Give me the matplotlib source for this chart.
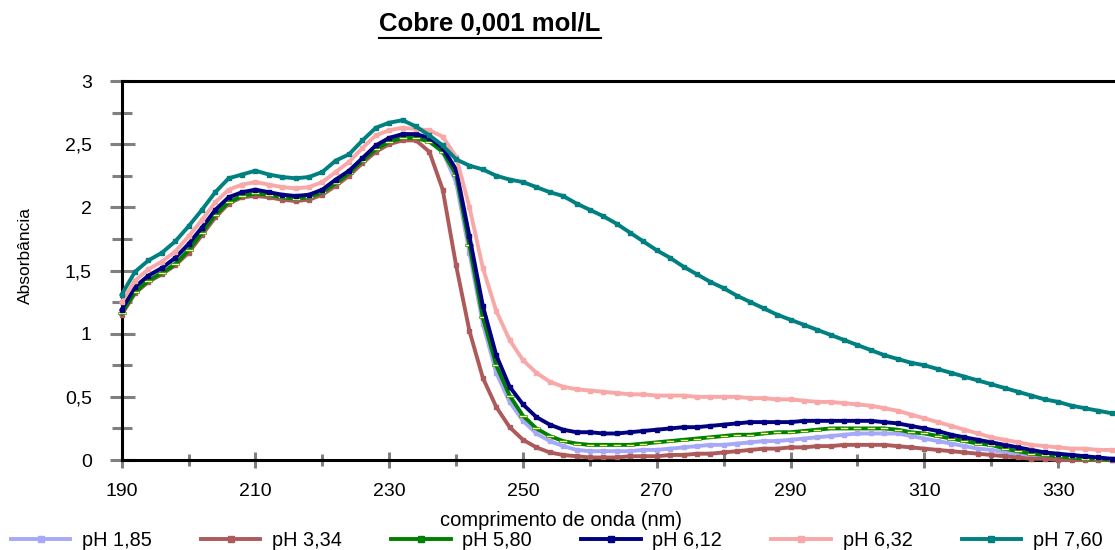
import matplotlib
matplotlib.use('Agg')
import matplotlib.pyplot as plt
from matplotlib.lines import Line2D
from matplotlib.ticker import FuncFormatter

plt.rcParams['font.family'] = ['Liberation Sans', 'DejaVu Sans']

# comprimento de onda (nm), leitura a cada 2 nm
wl = list(range(190, 342, 2))

ph_labels = ['pH 1,85', 'pH 3,34', 'pH 5,80', 'pH 6,12', 'pH 6,32', 'pH 7,60']

abs_185 = [1.17, 1.34, 1.43, 1.49, 1.56, 1.67, 1.81, 1.95, 2.05, 2.10,
           2.12, 2.11, 2.09, 2.08, 2.09, 2.13, 2.20, 2.28, 2.38, 2.48,
           2.54, 2.57, 2.57, 2.53, 2.44,
           2.20, 1.64, 1.08, 0.69, 0.46, 0.31, 0.21, 0.15, 0.11, 0.08,
           0.07, 0.07, 0.07, 0.07, 0.08, 0.08, 0.09, 0.10, 0.11, 0.12,
           0.12, 0.13, 0.14, 0.15, 0.15, 0.16, 0.17, 0.18, 0.19, 0.20,
           0.21, 0.21, 0.21, 0.21, 0.19, 0.17, 0.15, 0.13, 0.11, 0.09,
           0.08, 0.06, 0.05, 0.04, 0.03, 0.02, 0.02, 0.01, 0.01, 0.00,
           0.00]

abs_334 = [1.15, 1.32, 1.41, 1.47, 1.54, 1.64, 1.78, 1.92, 2.03, 2.08,
           2.09, 2.08, 2.06, 2.05, 2.06, 2.10, 2.17, 2.25, 2.35, 2.44,
           2.50, 2.53, 2.53, 2.44, 2.14,
           1.54, 1.02, 0.65, 0.42, 0.26, 0.16, 0.10, 0.06, 0.04, 0.03,
           0.02, 0.02, 0.02, 0.03, 0.03, 0.03, 0.04, 0.04, 0.05, 0.05,
           0.06, 0.07, 0.08, 0.09, 0.09, 0.10, 0.10, 0.11, 0.11, 0.12,
           0.12, 0.12, 0.12, 0.11, 0.10, 0.09, 0.08, 0.07, 0.06, 0.05,
           0.04, 0.03, 0.02, 0.01, 0.01, 0.00, 0.00, 0.00, 0.00, 0.00,
           0.00]

abs_580 = [1.16, 1.33, 1.42, 1.48, 1.55, 1.66, 1.80, 1.94, 2.04, 2.09,
           2.11, 2.10, 2.08, 2.07, 2.08, 2.12, 2.19, 2.27, 2.37, 2.46,
           2.52, 2.55, 2.55, 2.52, 2.44,
           2.26, 1.70, 1.13, 0.75, 0.51, 0.35, 0.25, 0.19, 0.15, 0.13,
           0.12, 0.12, 0.12, 0.12, 0.13, 0.14, 0.15, 0.16, 0.17, 0.18,
           0.19, 0.20, 0.20, 0.21, 0.22, 0.22, 0.23, 0.24, 0.25, 0.25,
           0.25, 0.25, 0.25, 0.24, 0.22, 0.21, 0.19, 0.17, 0.15, 0.13,
           0.12, 0.09, 0.07, 0.05, 0.04, 0.03, 0.02, 0.01, 0.01, 0.00,
           0.00]

abs_612 = [1.19, 1.37, 1.46, 1.52, 1.60, 1.71, 1.84, 1.98, 2.08, 2.12,
           2.14, 2.12, 2.10, 2.09, 2.10, 2.14, 2.22, 2.29, 2.39, 2.49,
           2.55, 2.58, 2.58, 2.55, 2.47,
           2.30, 1.77, 1.22, 0.83, 0.58, 0.44, 0.34, 0.28, 0.24, 0.22,
           0.22, 0.21, 0.21, 0.22, 0.23, 0.24, 0.25, 0.26, 0.26, 0.27,
           0.28, 0.29, 0.30, 0.30, 0.30, 0.30, 0.31, 0.31, 0.31, 0.31,
           0.31, 0.31, 0.30, 0.29, 0.27, 0.25, 0.23, 0.20, 0.18, 0.16,
           0.14, 0.12, 0.10, 0.08, 0.06, 0.05, 0.04, 0.03, 0.02, 0.01,
           0.01]

abs_632 = [1.25, 1.42, 1.51, 1.57, 1.65, 1.77, 1.90, 2.04, 2.14, 2.18,
           2.20, 2.18, 2.16, 2.15, 2.16, 2.20, 2.28, 2.36, 2.47, 2.57,
           2.61, 2.63, 2.62, 2.61, 2.56,
           2.40, 2.00, 1.52, 1.18, 0.95, 0.79, 0.69, 0.62, 0.58, 0.56,
           0.55, 0.54, 0.53, 0.52, 0.52, 0.51, 0.51, 0.51, 0.50, 0.50,
           0.50, 0.50, 0.49, 0.49, 0.48, 0.48, 0.47, 0.46, 0.46, 0.45,
           0.44, 0.43, 0.41, 0.39, 0.36, 0.33, 0.30, 0.27, 0.24, 0.21,
           0.18, 0.16, 0.14, 0.12, 0.11, 0.10, 0.09, 0.09, 0.08, 0.08,
           0.07]

abs_760 = [1.31, 1.49, 1.58, 1.64, 1.73, 1.85, 1.98, 2.12, 2.23, 2.26,
           2.29, 2.26, 2.24, 2.23, 2.24, 2.28, 2.37, 2.42, 2.53, 2.63,
           2.67, 2.69, 2.64, 2.57, 2.49,
           2.38, 2.33, 2.30, 2.25, 2.22, 2.20, 2.16, 2.12, 2.09, 2.03,
           1.98, 1.93, 1.87, 1.80, 1.73, 1.66, 1.60, 1.53, 1.47, 1.41,
           1.36, 1.30, 1.25, 1.20, 1.15, 1.11, 1.07, 1.03, 0.99, 0.95,
           0.91, 0.87, 0.83, 0.80, 0.77, 0.75, 0.72, 0.69, 0.66, 0.63,
           0.60, 0.57, 0.54, 0.51, 0.48, 0.46, 0.43, 0.41, 0.39, 0.37,
           0.35]

series = [abs_185, abs_334, abs_580, abs_612, abs_632, abs_760]
colors = ['#a8a8f8', '#ad5a5a', '#008000', '#000080', '#f9a8a8', '#008080']

# marcador "traco" amarelo da serie pH 5,80
dash_marker = [(-1, -0.3), (1, -0.3), (1, 0.3), (-1, 0.3), (-1, -0.3)]

fig = plt.figure(figsize=(11.15, 5.5), dpi=100)
ax = fig.add_axes([0.1091, 0.1636, 0.8909, 0.6891])

handles = []
for y, c, lab in zip(series, colors, ph_labels):
    if c == '#008000':
        ax.plot(wl, y, color=c, lw=2.8, marker=dash_marker, ms=5.5,
                mfc='#ffff80', mec=c, mew=0.4, clip_on=False, zorder=3)
    else:
        ax.plot(wl, y, color=c, lw=2.8, marker='s', ms=3.2,
                mfc=c, mec=c, clip_on=False, zorder=3)
    handles.append(Line2D([], [], color=c, lw=2.8, marker='s', ms=4.5,
                          mfc=c, mec=c))

ax.set_xlim(190, 338.5)
ax.set_ylim(0, 3)

ax.set_xticks(range(190, 340, 20))
ax.set_xticks(range(200, 340, 20), minor=True)
ax.set_yticks([0, 0.5, 1, 1.5, 2, 2.5, 3])
ax.set_yticks([0.25, 0.75, 1.25, 1.75, 2.25, 2.75], minor=True)
ax.yaxis.set_major_formatter(FuncFormatter(lambda v, p: f'{v:g}'.replace('.', ',')))

ax.tick_params(axis='y', which='major', direction='inout', length=18,
               width=2.2, color='#808080', labelsize=14, pad=12.5)
ax.tick_params(axis='y', which='minor', direction='inout', length=14,
               width=2.2, color='#808080')
ax.tick_params(axis='x', which='major', direction='inout', length=11,
               width=2.2, color='#808080', labelsize=14, pad=11)
ax.tick_params(axis='x', which='minor', direction='inout', length=8,
               width=2.2, color='#808080')

for s in ['left', 'bottom', 'top']:
    ax.spines[s].set_linewidth(2.2)
    ax.spines[s].set_color('black')
ax.spines['right'].set_visible(False)

fig.text(25 / 1115, 1 - 255 / 550, 'Absorbância', rotation=90,
         fontsize=12.5, ha='center', va='center')
fig.text(561 / 1115, 1 - 520 / 550, 'comprimento de onda (nm)',
         fontsize=14.5, ha='center', va='center')

title = fig.text(490 / 1115, 1 - 24 / 550, 'Cobre 0,001 mol/L',
                 fontsize=18.5, fontweight='bold', ha='center', va='center')

fig.legend(handles, ph_labels, ncol=6, loc='center left',
           bbox_to_anchor=(11 / 1115, 1 - 540 / 550), frameon=False,
           fontsize=14.3, handlelength=2.98, handletextpad=0.6,
           columnspacing=2.48, borderaxespad=0, borderpad=0)

# sublinhado do titulo
fig.canvas.draw()
bb = title.get_window_extent(fig.canvas.get_renderer())
bb = bb.transformed(fig.transFigure.inverted())
fig.add_artist(Line2D([bb.x0, bb.x1], [bb.y0 - 0.004, bb.y0 - 0.004],
                      transform=fig.transFigure, color='black', lw=1.5))

fig.savefig('out.png', dpi=100)
